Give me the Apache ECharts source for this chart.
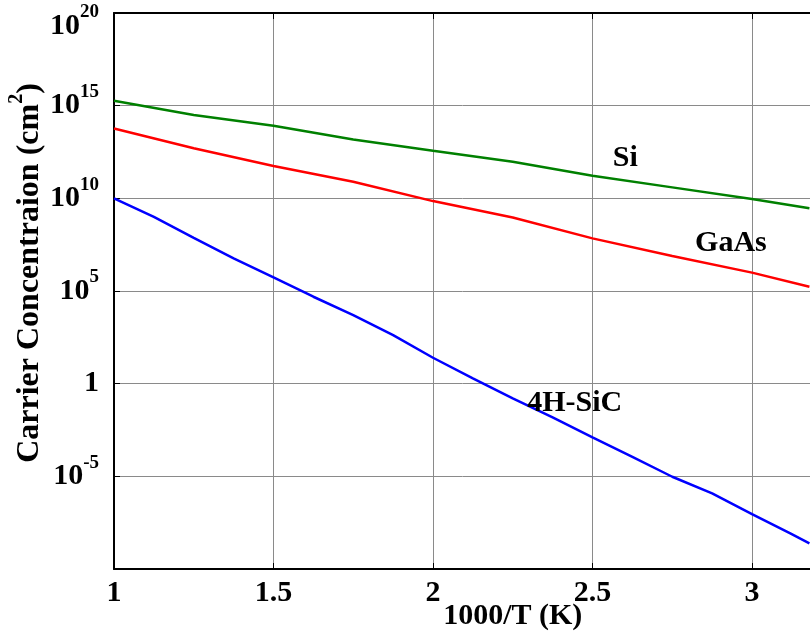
<!DOCTYPE html>
<html>
<head>
<meta charset="utf-8">
<script src="https://cdn.jsdelivr.net/npm/echarts@6/dist/echarts.min.js"></script>
<style>
html,body{margin:0;padding:0;background:#fff;}
#chart{width:810px;height:639px;}
</style>
</head>
<body>
<div id="chart"></div>
<script>
// x values (1000/T)
const xMain = [1, 1.25, 1.5, 1.75, 2, 2.25, 2.5, 2.75, 3, 3.18];
const siValues = [1.86e15, 3.16e14, 8.3e13, 1.51e13, 3.7e12, 9.5e11, 1.66e11, 3.9e10, 9.1e9, 2.9e9];
const gaasValues = [5.8e13, 5.0e12, 5.5e11, 7.9e10, 7.1e9, 9.3e8, 6.9e7, 7.8e6, 9.8e5, 1.7e5];
const xSiC = [1, 1.125, 1.25, 1.375, 1.5, 1.625, 1.75, 1.875, 2, 2.125, 2.25, 2.375, 2.5, 2.625, 2.75, 2.875, 3, 3.12, 3.18];
const sicValues = [1.0e10, 1.0e9, 7.4e7, 5.8e6, 5.5e5, 4.9e4, 5.0e3, 417, 25, 1.95, 0.16, 0.015, 1.26e-3, 1.12e-4, 9.5e-6, 1.2e-6, 9.1e-8, 8.3e-9, 2.4e-9];
const xTickLabels = ['1', '1.5', '2', '2.5', '3', '3.5'];
const labelNames = ['Si', 'GaAs', '4H-SiC'];
const labelCoords = [[2.603, 1.4e12], [2.934, 3.9e7], [2.444, 0.089]];

const FONT = '"Liberation Serif", "Times New Roman", serif';
const chart = echarts.init(document.getElementById('chart'), null, {renderer: 'canvas'});

function pairs(xs, ys) { return xs.map((x, i) => [x, ys[i]]); }

const option = {
  backgroundColor: '#fff',
  animation: false,
  grid: {
    left: 114, top: 13, width: 797.5, height: 556,
    outerBoundsMode: 'none', containLabel: false,
    show: false
  },
  xAxis: [{
    type: 'value', min: 1, max: 3.5, interval: 0.5,
    name: '1000/T (K)', nameLocation: 'middle', nameGap: 32, nameMoveOverlap: false,
    nameTextStyle: {color: '#000', fontFamily: FONT, fontWeight: 'bold', fontSize: 30},
    axisLine: {show: true, lineStyle: {color: '#000', width: 2}},
    axisTick: {show: true, inside: true, length: 6, lineStyle: {color: '#000', width: 1}},
    axisLabel: {
      color: '#000', fontFamily: FONT, fontWeight: 'bold', fontSize: 30, margin: 9,
      formatter: function (v) { const i = Math.round((v - 1) / 0.5); return xTickLabels[i] || ''; }
    },
    splitLine: {show: true, lineStyle: {color: '#8a8a8a', width: 1}}
  }, {
    type: 'value', min: 1, max: 3.5, interval: 0.5, position: 'top',
    axisLine: {show: true, lineStyle: {color: '#000', width: 2}},
    axisTick: {show: true, inside: true, length: 6, lineStyle: {color: '#000', width: 1}},
    axisLabel: {show: false},
    splitLine: {show: false}
  }],
  yAxis: {
    type: 'log', logBase: 10, min: 1e-10, max: 1e20, interval: 5, splitNumber: 6,
    name: 'Carrier Concentraion (cm{s|2})', nameLocation: 'middle', nameGap: 61, nameRotate: 90, nameMoveOverlap: false,
    nameTextStyle: {
      color: '#000', fontFamily: FONT, fontWeight: 'bold', fontSize: 32, lineHeight: 46, padding: [0, 0, 0, 36],
      rich: {s: {fontFamily: FONT, fontWeight: 'bold', fontSize: 20, verticalAlign: 'top', lineHeight: 16, color: '#000'}}
    },
    axisLine: {show: true, lineStyle: {color: '#000', width: 2}},
    axisTick: {show: true, inside: true, length: 6, lineStyle: {color: '#000', width: 1}},
    axisLabel: {
      margin: 15, color: '#000',
      formatter: function (v) {
        const e = Math.round(Math.log10(v));
        if (e === -10) return '';
        if (e === 0) return '{m|1}';
        if (e === 20) return '{sp| }\n{m|10}{s|20}';
        return '{m|10}{s|' + e + '}';
      },
      rich: {
        m: {fontFamily: FONT, fontWeight: 'bold', fontSize: 30, lineHeight: 46, color: '#000'},
        s: {fontFamily: FONT, fontWeight: 'bold', fontSize: 19, lineHeight: 16, verticalAlign: 'top', color: '#000'},
        sp: {fontSize: 2, lineHeight: 26}
      }
    },
    splitLine: {show: true, lineStyle: {color: '#8a8a8a', width: 1}}
  },
  series: [{
    name: 'Si', type: 'line', data: pairs(xMain, siValues), showSymbol: false,
    lineStyle: {color: '#008000', width: 2.5}, itemStyle: {color: '#008000'}
  }, {
    name: 'GaAs', type: 'line', data: pairs(xMain, gaasValues), showSymbol: false,
    lineStyle: {color: '#ff0000', width: 2.5}, itemStyle: {color: '#ff0000'}
  }, {
    name: '4H-SiC', type: 'line', data: pairs(xSiC, sicValues), showSymbol: false,
    lineStyle: {color: '#0000ff', width: 2.5}, itemStyle: {color: '#0000ff'}
  }, {
    name: 'labels', type: 'scatter', silent: true, z: 5,
    symbol: 'circle', symbolSize: 2, itemStyle: {color: 'rgba(0,0,0,0)', opacity: 1},
    data: labelCoords.map((c, i) => ({value: c, name: labelNames[i]})),
    label: {
      show: true, position: 'inside', formatter: '{b}', opacity: 1,
      color: '#000', fontFamily: FONT, fontWeight: 'bold', fontSize: 30,
      textBorderWidth: 0
    }
  }]
};
chart.setOption(option);
</script>
</body>
</html>
